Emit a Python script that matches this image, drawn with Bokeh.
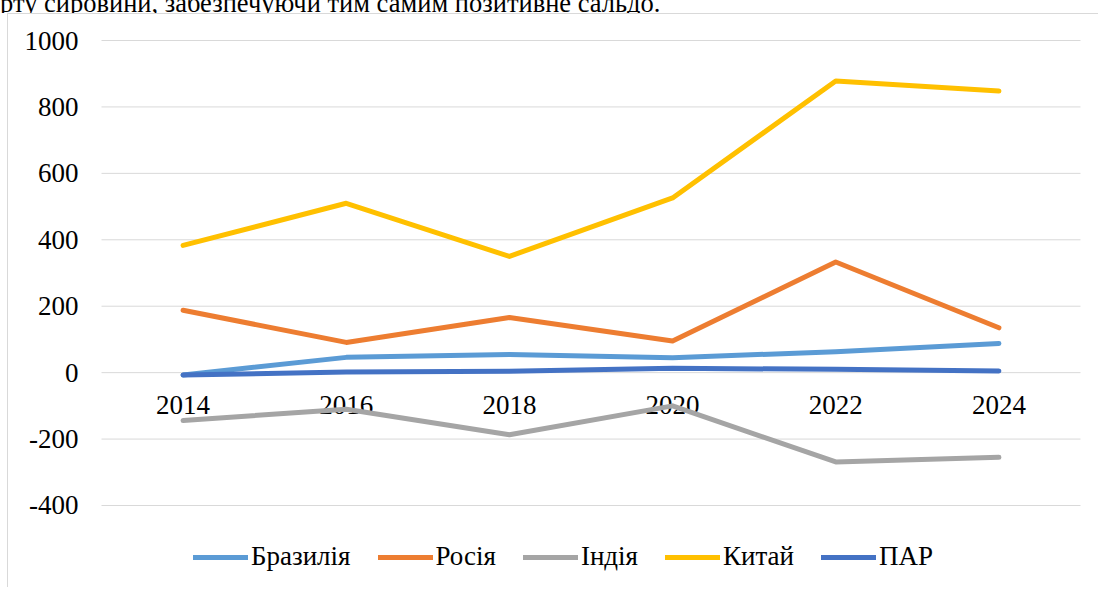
from bokeh.plotting import figure
from bokeh.layouts import column
from bokeh.models import Range1d, Legend, LegendItem, ColumnDataSource, Div
from bokeh.core.properties import value
from bokeh.embed import file_html
from bokeh.resources import INLINE

years = [2014, 2016, 2018, 2020, 2022, 2024]
x_labels = ["2014", "2016", "2018", "2020", "2022", "2024"]
brazil = [-7, 46, 55, 45, 63, 88]
russia = [188, 91, 166, 95, 333, 135]
india = [-144, -110, -187, -100, -269, -255]
china = [383, 510, 350, 526, 878, 848]
sa = [-7, 2, 4, 13, 10, 5]

series_names = ["Бразилія", "Росія", "Індія", "Китай", "ПАР"]
series_values = [brazil, russia, india, china, sa]
series_colors = ["#5B9BD5", "#ED7D31", "#A5A5A5", "#FFC000", "#4472C4"]

y_ticks = [-400, -200, 0, 200, 400, 600, 800, 1000]
y_tick_labels = ["-400", "-200", "0", "200", "400", "600", "800", "1000"]

top_text = "рту сировини, забезпечуючи тим самим позитивне сальдо."

FONT = "Liberation Serif"
FS = "27px"

# category band edges (each year occupies a band of width 2)
band_lo = years[0] - 1
band_hi = years[-1] + 1

p = figure(width=1091, height=574,
           x_range=Range1d(2011.86, 2025.233), y_range=Range1d(-649.9, 1078.3),
           output_backend="svg", toolbar_location=None, min_border=0)
p.styles = {"border-left": "1px solid #d9d9d9", "border-top": "1px solid #d9d9d9"}
p.margin = (0, 0, 0, 7)
p.axis.visible = False
p.grid.visible = False
p.outline_line_color = None

# horizontal gridlines across the plot area
n = len(y_ticks)
p.segment(x0=[band_lo] * n, x1=[band_hi] * n, y0=y_ticks, y1=y_ticks,
          line_color="#d9d9d9", line_width=1)

# value-axis labels
p.text(x=[band_lo] * n, y=y_ticks, text=y_tick_labels, text_font=value(FONT),
       text_font_size=FS, text_align="right", text_baseline="middle",
       x_offset=-23, text_color="black")

# category labels drawn at the zero line (Excel style)
lab_src = ColumnDataSource(dict(x=years, y=[0] * len(years), text=x_labels))
p.text(x="x", y="y", text="text", source=lab_src, text_font=value(FONT),
       text_font_size=FS, text_align="center", text_baseline="middle",
       y_offset=32, text_color="black")

items = []
for name, vals, col in zip(series_names, series_values, series_colors):
    r = p.line(years, vals, line_color=col, line_width=5,
               line_cap="round", line_join="round")
    items.append(LegendItem(label=name, renderers=[r]))

legend = Legend(items=items, orientation="horizontal", location=(185, 16),
                glyph_width=55, label_standoff=3, spacing=27, padding=0,
                margin=0, border_line_color=None, background_fill_alpha=0,
                label_text_font=FONT, label_text_font_size=FS,
                label_text_color="black")
p.add_layout(legend)

div = Div(text=f'<div style="margin-top:-25px;white-space:nowrap;'
               f'font-family:\'{FONT}\';font-size:26.5px;color:black;">{top_text}</div>',
          width=1099, height=13, margin=0,
          styles={"overflow": "hidden"})

layout = column(div, p, spacing=0)
open("out.html", "w").write(file_html(layout, INLINE))
